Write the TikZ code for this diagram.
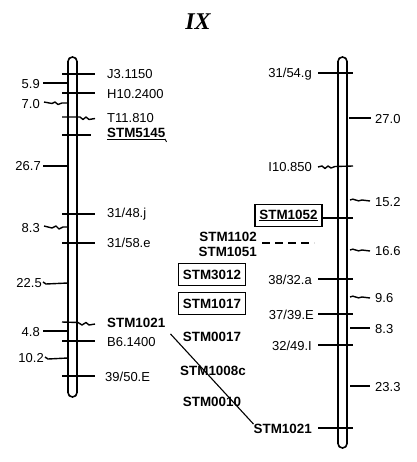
\documentclass[tikz,border=0pt]{standalone}
\usepackage{fontspec}
\setmainfont{Liberation Sans}
\newfontfamily\titlefont{Liberation Serif}
\usepackage{tikz}
\usetikzlibrary{positioning, calc}

\begin{document}
\begin{tikzpicture}[
  x=1pt, y=-1pt,
  chrom/.style={draw, line width=1.6pt, rounded corners=4.4pt},
  tick/.style={line width=1.5pt},
  wig/.style={line width=1.4pt, line join=round},
  mk/.style={inner sep=0pt, font=\fontsize{13}{15}\selectfont},
  mkb/.style={mk, font=\fontsize{13.4}{15}\selectfont\bfseries},
  boxed/.style={mkb, draw, line width=1.4pt, inner xsep=4.5pt, minimum height=22pt},
  dist/.style={mk, anchor=east},
  lmark/.style={mk, anchor=west},
  rmark/.style={mk, anchor=east}
]
  \useasboundingbox (0,0) rectangle (416,462);

  % title
  \node[font=\titlefont\fontsize{24}{26}\selectfont\bfseries\itshape] (title) at (198,22) {IX};

  % chromosomes
  \draw[chrom] (68,57) rectangle (77,397);
  \draw[chrom] (338,57) rectangle (347,448);

  % left map: markers
  \draw[tick] (62,74) -- (95,74);
  \node[lmark] (j3) at (107,74) {J3.1150};
  \draw[tick] (62,93) -- (95,93);
  \node[lmark] (h10) at (107,94) {H10.2400};
  \draw[wig] (62,117) -- (80,117) -- (83,119.5) -- (86,117) -- (89,119.5) -- (95,118.5);
  \node[lmark] (t11) at (107,118) {T11.810};
  \draw[tick] (62,135) -- (91,135);
  \node[lmark, mkb] (stm5145) at (107,134) {\underline{STM5145}};
  \draw[line width=0.9pt] (stm5145.south east) ++(-0.5,-1) -- ++(1.5,3);
  \draw[tick] (62,214) -- (95,214);
  \node[lmark] (m3148) at (107,214) {31/48.j};
  \draw[tick] (62,243) -- (95,243);
  \node[lmark] (m3158) at (107,243) {31/58.e};
  \draw[wig] (62,322) -- (78,322.5) -- (82,325) -- (86,322.5) -- (89,325) -- (95,324);
  \node[lmark, mkb] (lstm1021) at (107,323) {STM1021};
  \draw[tick] (62,341) -- (95,341);
  \node[lmark] (b6) at (107,342) {B6.1400};
  \draw[tick] (62,376) -- (95,376);
  \node[lmark] (m3950) at (105,377) {39/50.E};

  % left map: distances
  \draw[tick] (43,83) -- (68,83);
  \node[dist] (d59) at (40,84) {5.9};
  \draw[wig] (44,102) -- (52,103.5) -- (55,102) -- (58,104.5) -- (62,103) -- (68,103);
  \node[dist] (d70) at (40,104) {7.0};
  \draw[tick] (43,166) -- (68,166);
  \node[dist] (d267) at (41,166) {26.7};
  \draw[wig] (44,226) -- (52,228) -- (56,226) -- (59,229) -- (63,227) -- (68,227);
  \node[dist] (d83l) at (40,228) {8.3};
  \draw[wig] (43,282) -- (46,284) -- (68,283);
  \node[dist] (d225) at (42,283) {22.5};
  \draw[tick] (43,331) -- (68,331);
  \node[dist] (d48) at (40,332) {4.8};
  \draw[wig] (45,357) -- (48,359) -- (68,358);
  \node[dist] (d102) at (44,358) {10.2};

  % right map: markers
  \draw[tick] (318,73) -- (353,73);
  \node[rmark] (m3154) at (312,74) {31/54.g};
  \draw[wig] (318,167) -- (322,166) -- (325,168.5) -- (328,166) -- (331,168) -- (335,166.5) -- (353,166);
  \node[rmark] (i10) at (312,167) {I10.850};
  \node[boxed] (stm1052) at (288.5,215.5) {\underline{STM1052}};
  \draw[tick] ([yshift=-2.5pt]stm1052.east) -- (353,218);
  \node[mkb, anchor=east] (stm1102) at (257,237) {STM1102};
  \node[mkb, anchor=east] (stm1051) at (257,252) {STM1051};
  \draw[line width=1.5pt, dash pattern=on 8pt off 5pt] (262,243) -- (314,243);
  \node[boxed] (stm3012) at (212,274.5) {STM3012};
  \node[boxed] (stm1017) at (212,303.5) {STM1017};
  \draw[tick] (318,279) -- (353,279);
  \node[rmark] (m3832) at (312,280) {38/32.a};
  \draw[tick] (318,314) -- (353,314);
  \node[rmark] (m3739) at (314,315) {37/39.E};
  \node[mkb] (stm0017) at (212,337) {STM0017};
  \draw[tick] (318,345) -- (353,345);
  \node[rmark] (m3249) at (312,346) {32/49.I};
  \node[mkb] (stm1008c) at (213,371) {STM1008c};
  \node[mkb] (stm0010) at (212,402) {STM0010};
  \draw[tick] (318,428) -- (353,428);
  \node[rmark, mkb] (rstm1021) at (312,429) {STM1021};
  \draw[line width=1.1pt] ([shift={(5pt,-6pt)}]lstm1021.south east) -- (rstm1021.north west);

  % right map: distances
  \draw[tick] (349,118) -- (371,118);
  \node[mk, anchor=west] (d270) at (375,119) {27.0};
  \draw[wig] (350,200) .. controls (354,197) and (357,203) .. (362,200) -- (370,201);
  \node[mk, anchor=west] (d152) at (375,202) {15.2};
  \draw[wig] (350,250) .. controls (354,247) and (357,253) .. (362,250) -- (370,251);
  \node[mk, anchor=west] (d166) at (375,251) {16.6};
  \draw[wig] (350,297) .. controls (354,294) and (357,300) .. (362,297) -- (370,298);
  \node[mk, anchor=west] (d96) at (375,298) {9.6};
  \draw[tick] (350,328) -- (370,328);
  \node[mk, anchor=west] (d83r) at (375,329) {8.3};
  \draw[tick] (350,386) -- (370,386);
  \node[mk, anchor=west] (d233) at (375,387) {23.3};
\end{tikzpicture}
\end{document}
